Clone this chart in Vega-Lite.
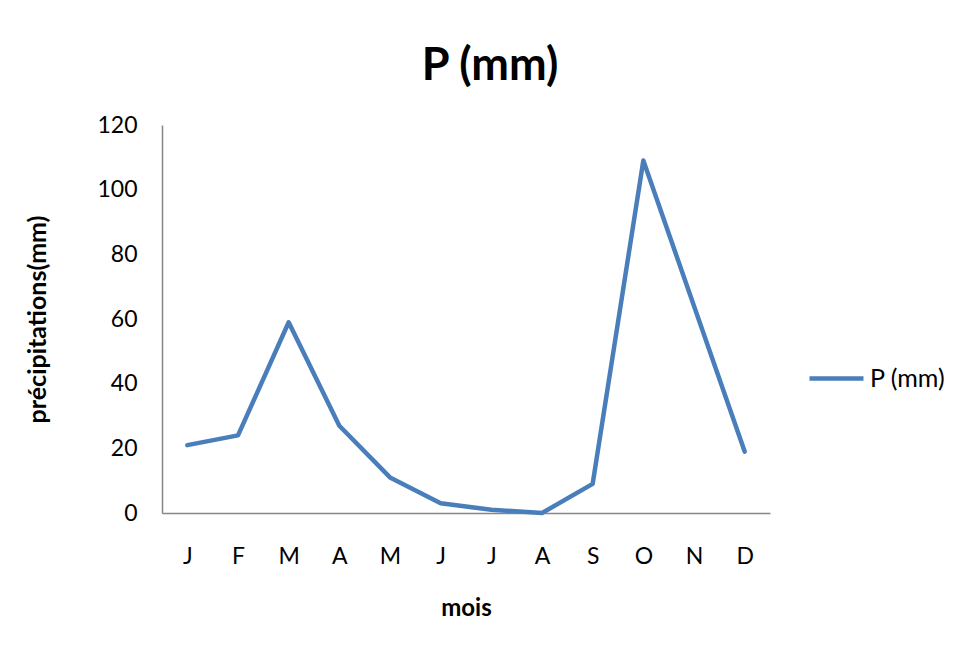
{
  "$schema": "https://vega.github.io/schema/vega-lite/v6.json",
  "autosize": "none",
  "width": 608,
  "height": 388,
  "padding": {"left": 162, "top": 125, "right": 190, "bottom": 135},
  "background": "white",
  "config": {
    "font": "Lato",
    "view": {"stroke": null}
  },
  "title": {
    "text": "P (mm)",
    "font": "Lato",
    "fontSize": 45,
    "fontWeight": "bold",
    "color": "#000000",
    "anchor": "middle",
    "frame": "group",
    "dx": 24,
    "offset": 25
  },
  "data": {
    "values": [
      {"mois": "Janvier", "p": 21, "serie": "P (mm)"},
      {"mois": "Février", "p": 24, "serie": "P (mm)"},
      {"mois": "Mars", "p": 59, "serie": "P (mm)"},
      {"mois": "Avril", "p": 27, "serie": "P (mm)"},
      {"mois": "Mai", "p": 11, "serie": "P (mm)"},
      {"mois": "Juin", "p": 3, "serie": "P (mm)"},
      {"mois": "Juillet", "p": 1, "serie": "P (mm)"},
      {"mois": "Août", "p": 0, "serie": "P (mm)"},
      {"mois": "Septembre", "p": 9, "serie": "P (mm)"},
      {"mois": "Octobre", "p": 109, "serie": "P (mm)"},
      {"mois": "Novembre", "p": 64, "serie": "P (mm)"},
      {"mois": "Décembre", "p": 19, "serie": "P (mm)"}
    ]
  },
  "mark": {"type": "line", "strokeWidth": 4.5, "strokeCap": "round", "strokeJoin": "round"},
  "encoding": {
    "x": {
      "field": "mois",
      "type": "ordinal",
      "sort": null,
      "scale": {"type": "point", "padding": 0.5},
      "axis": {
        "title": "mois",
        "titleFont": "Lato",
        "titleFontSize": 24,
        "titleFontWeight": "bold",
        "titleColor": "#000000",
        "titleBaseline": "middle",
        "titleY": 95,
        "labelExpr": "upper(slice(datum.label,0,1))",
        "labelAngle": 0,
        "labelFont": "Lato",
        "labelFontSize": 23,
        "labelColor": "#000000",
        "labelBaseline": "middle",
        "labelPadding": 43,
        "ticks": false,
        "tickSize": 0,
        "domainColor": "#868686",
        "domainWidth": 1.5,
        "grid": false
      }
    },
    "y": {
      "field": "p",
      "type": "quantitative",
      "scale": {"domain": [0, 120], "nice": false},
      "axis": {
        "title": "précipitations(mm)",
        "titleFont": "Lato",
        "titleFontSize": 25,
        "titleFontWeight": "bold",
        "titleColor": "#000000",
        "titleAngle": -90,
        "titleAlign": "center",
        "titleBaseline": "middle",
        "titleX": -125,
        "titleY": 194,
        "values": [0, 20, 40, 60, 80, 100, 120],
        "labelFont": "Lato",
        "labelFontSize": 23,
        "labelColor": "#000000",
        "labelPadding": 25,
        "ticks": false,
        "tickSize": 0,
        "domainColor": "#868686",
        "domainWidth": 1.5,
        "grid": false
      }
    },
    "color": {
      "field": "serie",
      "type": "nominal",
      "scale": {"range": ["#4A7EBB"]},
      "legend": {
        "title": null,
        "orient": "none",
        "legendX": 645,
        "legendY": 224,
        "symbolType": "stroke",
        "symbolSize": 2916,
        "symbolStrokeWidth": 4.5,
        "labelFont": "Lato",
        "labelFontSize": 25,
        "labelColor": "#000000",
        "labelOffset": 4,
        "padding": 0
      }
    }
  }
}
